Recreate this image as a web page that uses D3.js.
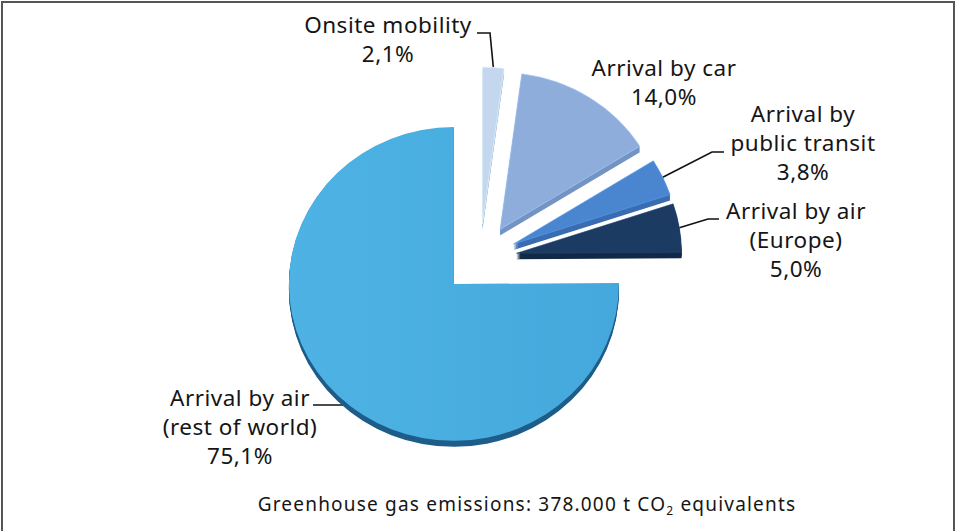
<!DOCTYPE html>
<html>
<head>
<meta charset="utf-8">
<script src="https://cdn.jsdelivr.net/npm/d3@7"></script>
<style>
  html, body { margin: 0; padding: 0; background: #fff; }
  svg { display: block; }
  text { font-family: "Noto Sans", "Open Sans", sans-serif; fill: #151515; }
</style>
</head>
<body>
<svg id="chart" width="960" height="531"></svg>
<script>
// ---- data ----
const categories = ["Onsite mobility", "Arrival by car", "Arrival by public transit", "Arrival by air (Europe)", "Arrival by air (rest of world)"];
const values = [2.1, 14.0, 3.8, 5.0, 75.1];
const labelLines = [
  ["Onsite mobility"],
  ["Arrival by car"],
  ["Arrival by", "public transit"],
  ["Arrival by air", "(Europe)"],
  ["Arrival by air", "(rest of world)"]
];
const footerMain = "Greenhouse gas emissions: 378.000 t CO";
const footerSub = "2";
const footerTail = " equivalents";

// ---- style ----
const topColors = ["#c5d7ee", "#8eaddb", "#4a86cf", "#1c3b62", "#4aafe0"];
const rimColors = ["#a7bedd", "#7494c4", "#3a6db0", "#122a47", "#1f5d8a"];
const cx = 480, cy = 259;      // pie centre
const R = 165, k = 0.951;      // radius, vertical squash (tilt)
const explode = 37;            // explode distance
const depth = 6;               // 3D thickness
const fontSize = 22.5, lineH = 29, letterSp = 0.5;
// label anchor (centre x, first baseline y) per category
const labelPos = [[388, 33], [664, 76], [803, 122], [796, 219], [240, 406]];
// leader elbows per category (null => none)
const leaderElbows = [
  [[477, 33], [490, 33]],
  null,
  [[724, 152], [712, 152]],
  [[719, 219], [708, 219]],
  [[313, 405], [350, 405]]
];

const svg = d3.select("#chart");

// frame
svg.append("rect").attr("x", 2).attr("y", 2).attr("width", 952).attr("height", 560)
  .attr("fill", "none").attr("stroke", "#555").attr("stroke-width", 2);

const defs = svg.append("defs");
const g0 = defs.append("linearGradient").attr("id", "bigGrad").attr("x1", 0).attr("x2", 1).attr("y1", 0).attr("y2", 0);
g0.append("stop").attr("offset", "0%").attr("stop-color", "#4eb3e4");
g0.append("stop").attr("offset", "100%").attr("stop-color", "#44a8dc");

const pie = d3.pie().sort(null).value(d => d).startAngle(0).endAngle(2 * Math.PI);
const arcs = pie(values);
const arcGen = d3.arc().innerRadius(0).outerRadius(R);

function offsetOf(a) {
  const m = (a.startAngle + a.endAngle) / 2;
  return [explode * Math.sin(m), -explode * Math.cos(m) * k];
}
function outerMid(a, extra) {
  const m = (a.startAngle + a.endAngle) / 2;
  const [ox, oy] = offsetOf(a);
  return [cx + ox + (R + extra) * Math.sin(m), cy + oy - (R + extra) * Math.cos(m) * k];
}

// leader lines (drawn beneath slices)
const leaders = svg.append("g");
arcs.forEach((a, i) => {
  const el = leaderElbows[i];
  if (!el) return;
  const end = i === 4 ? el[1] : outerMid(a, 0);
  const pts = [el[0], el[1], end];
  leaders.append("path")
    .attr("d", d3.line()(pts))
    .attr("fill", "none").attr("stroke", "#111").attr("stroke-width", 1.6);
});

// slices
const slices = svg.append("g");
arcs.forEach((a, i) => {
  const [ox, oy] = offsetOf(a);
  const gs = slices.append("g");
  for (let j = depth; j >= 1; j--) {
    gs.append("path")
      .attr("d", arcGen(a))
      .attr("transform", `translate(${cx + ox},${cy + oy + j}) scale(1,${k})`)
      .attr("fill", rimColors[i]);
  }
  gs.append("path")
    .attr("d", arcGen(a))
    .attr("transform", `translate(${cx + ox},${cy + oy}) scale(1,${k})`)
    .attr("fill", i === 4 ? "url(#bigGrad)" : topColors[i])
    .attr("stroke", i === 4 ? "none" : d3.color(topColors[i]).brighter(0.5))
    .attr("stroke-opacity", 0.6)
    .attr("stroke-width", 1)
    .attr("vector-effect", "non-scaling-stroke");
});

// labels
const fmt = v => d3.format(".1f")(v).replace(".", ",") + "%";
const labels = svg.append("g");
arcs.forEach((a, i) => {
  const [lx, ly] = labelPos[i];
  const lines = labelLines[i].concat([fmt(values[i])]);
  const t = labels.append("text").attr("text-anchor", "middle")
    .attr("font-size", fontSize).attr("letter-spacing", letterSp);
  lines.forEach((s, j) => {
    t.append("tspan").attr("x", lx).attr("y", ly + j * lineH).text(s);
  });
});

// footer
const ft = svg.append("text").attr("x", 527).attr("y", 511).attr("text-anchor", "middle")
  .attr("font-size", 19).attr("letter-spacing", 1.2);
ft.append("tspan").text(footerMain);
ft.append("tspan").attr("font-size", 12).attr("dy", 4).text(footerSub);
ft.append("tspan").attr("dy", -4).text(footerTail);
</script>
</body>
</html>
